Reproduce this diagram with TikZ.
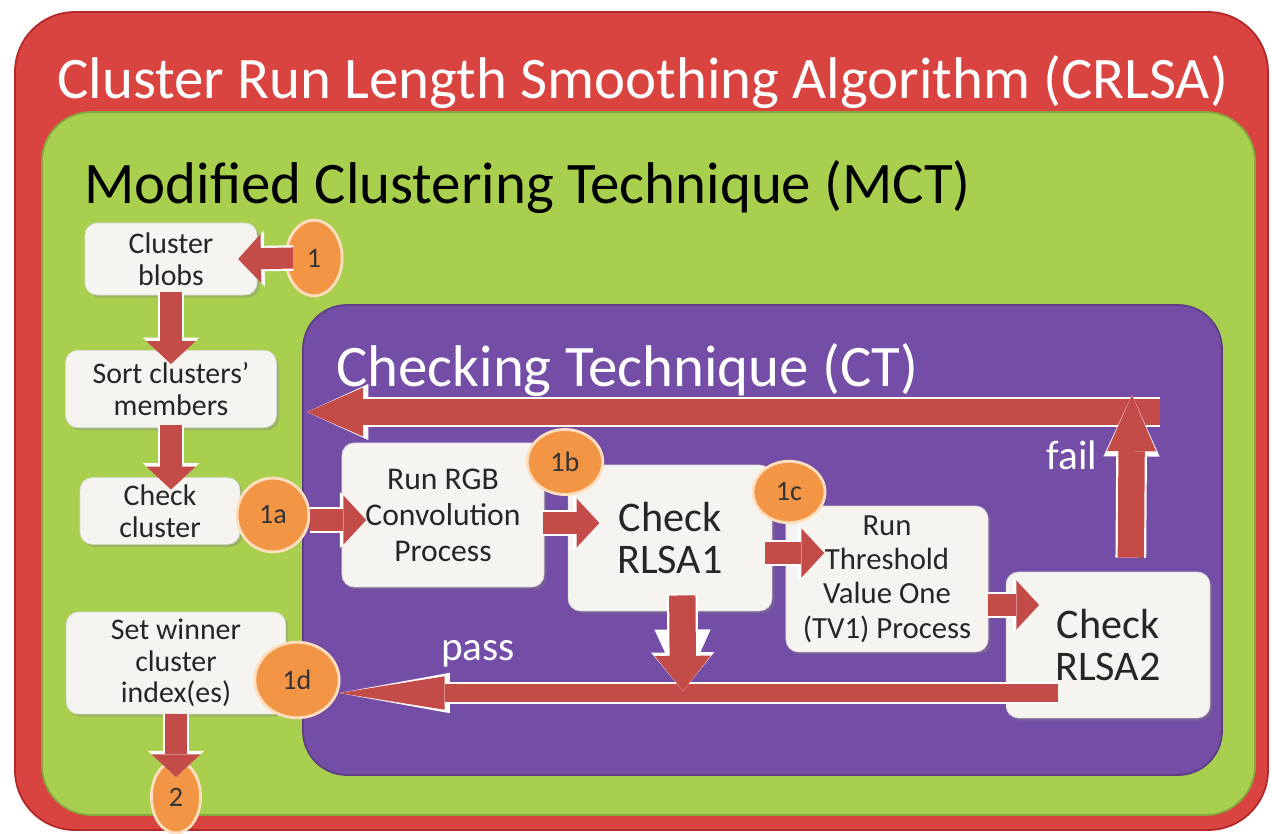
\documentclass[tikz,border=0pt]{standalone}
\usepackage{fontspec}
\setmainfont{Carlito}
\usetikzlibrary{arrows.meta,shapes.geometric,shadows}
\definecolor{crlsared}{RGB}{218,68,64}
\definecolor{crlsadark}{RGB}{178,40,40}
\definecolor{mctgreen}{RGB}{168,208,78}
\definecolor{ctpurple}{RGB}{116,78,166}
\definecolor{steporange}{RGB}{242,150,70}
\definecolor{boxgrey}{RGB}{245,244,240}
\definecolor{arrowred}{RGB}{196,76,72}
\begin{document}
\begin{tikzpicture}[x=0.02cm,y=-0.02cm]
  \tikzstyle{stepbox}=[draw=white!85!black, fill=boxgrey, rounded corners=7pt, align=center,
    text=black!85, font=\fontsize{17}{18}\selectfont, inner sep=1pt,
    drop shadow={opacity=0.35,shadow xshift=1.5pt,shadow yshift=-1.5pt}]
  \tikzstyle{stepnum}=[ellipse, draw=orange!25, line width=1.6pt, fill=steporange,
    inner sep=0pt, text=black!80, font=\fontsize{16}{18}\selectfont]
  \tikzstyle{blockarrow}=[draw=arrowred, line width=12pt,
    -{Triangle[length=13pt,width=28pt,line width=0pt]},
    preaction={draw=white, line width=14.5pt, -{Triangle[length=15pt,width=32pt,line width=0pt]}}]
  \tikzstyle{bigarrow}=[draw=arrowred, line width=15pt,
    -{Triangle[length=32pt,width=28pt,line width=0pt]},
    preaction={draw=white, line width=17.5pt, -{Triangle[length=35pt,width=32pt,line width=0pt]}}]
  \tikzstyle{passarrow}=[draw=arrowred, line width=10pt,
    -{Triangle[length=60pt,width=19pt,line width=0pt]},
    preaction={draw=white, line width=12.5pt, -{Triangle[length=63pt,width=23pt,line width=0pt]}}]
  \tikzstyle{title}=[anchor=west, inner sep=0pt, font=\fontsize{33.5}{40}\selectfont]
  \tikzstyle{flowlabel}=[text=white, font=\fontsize{23.5}{26}\selectfont]
  \useasboundingbox (0,0) rectangle (1272,833);

  % nested frames
  \filldraw[fill=crlsared, draw=crlsadark, line width=1pt, rounded corners=34pt] (15,12) rectangle (1268,830);
  \filldraw[fill=mctgreen, draw=mctgreen!80!black, line width=1pt, rounded corners=28pt] (42,112) rectangle (1255,815);
  \filldraw[fill=ctpurple, draw=ctpurple!80!black, line width=1pt, rounded corners=25pt] (303,305) rectangle (1222,775);

  \node[title, text=white] (crlsa) at (57,82) {Cluster Run Length Smoothing Algorithm (CRLSA)};
  \node[title, text=black] (mct) at (84,187) {Modified Clustering Technique (MCT)};
  \node[title, text=white] (ct) at (336,370) {Checking Technique (CT)};

  % steps
  \node[stepbox, minimum width=98pt, minimum height=41pt] (blobs) at (171,259) {Cluster\\blobs};
  \node[stepbox, minimum width=120pt, minimum height=44pt] (sort) at (171,389) {Sort clusters'\\members};
  \node[stepbox, minimum width=91pt, minimum height=38pt] (checkcl) at (160,511) {Check\\cluster};
  \node[stepbox, minimum width=125pt, minimum height=58pt] (winner) at (176,663) {Set winner\\cluster\\index(es)};
  \node[stepbox, minimum width=115pt, minimum height=82pt, font=\fontsize{18}{20.5}\selectfont] (rgb) at (443,515) {Run RGB\\Convolution\\Process};
  \node[stepbox, minimum width=116pt, minimum height=83pt, font=\fontsize{24}{24}\selectfont] (rlsa1) at (670,538) {Check\\RLSA1};
  \node[stepbox, minimum width=115pt, minimum height=83pt, font=\fontsize{17.5}{19.5}\selectfont] (tv1) at (887,579) {Run\\Threshold\\Value One\\(TV1) Process};
  \node[stepbox, minimum width=116pt, minimum height=83pt, font=\fontsize{24}{24}\selectfont] (rlsa2) at (1108,645) {Check\\RLSA2};

  \coordinate (failtop) at (1132,395);
  \coordinate (backstart) at (1160,412);
  \coordinate (backend) at (307,412);
  \coordinate (passstart) at (1058,693);
  \coordinate (passjoin) at (683,691);

  % flow
  \draw[blockarrow] ([yshift=2pt]blobs.south) -- ([yshift=-8pt]sort.north);
  \draw[blockarrow] ([yshift=2pt]sort.south) -- ([yshift=-7pt]sort.south |- checkcl.north);
  \draw[bigarrow] (backstart) -- (backend);
  \draw[bigarrow] ([xshift=13pt,yshift=8pt]rlsa2.north) -- (failtop);

  \node[stepnum, minimum width=32pt, minimum height=43pt] (c1) at (314,258) {1};
  \node[stepnum, minimum width=41pt, minimum height=42pt] (c1a) at (273,515) {1a};
  \node[stepnum, minimum width=43pt, minimum height=37pt] (c1b) at (565,462) {1b};
  \node[stepnum, minimum width=41pt, minimum height=35pt] (c1c) at (789,492) {1c};
  \node[stepnum, minimum width=48pt, minimum height=43pt] (c1d) at (297,680) {1d};
  \node[stepnum, minimum width=28pt, minimum height=41pt] (c2) at (176,797) {2};

  \draw[blockarrow] ([xshift=5pt]c1.west) -- ([xshift=-11pt]blobs.east);
  \draw[blockarrow] (c1a.east |- 0,520) -- ([xshift=14pt]rgb.west |- 0,520);
  \draw[blockarrow] ([xshift=-1pt]rgb.east |- 0,523) -- ([xshift=18pt]rlsa1.west |- 0,523);
  \draw[blockarrow] ([xshift=-4pt]rlsa1.east |- 0,553) -- ([xshift=22pt]tv1.west |- 0,553);
  \draw[blockarrow] (tv1.east |- 0,605) -- ([xshift=19pt]rlsa2.west |- 0,605);
  \draw[passarrow] (passstart) -- ([xshift=24pt]c1d.center |- passstart);
  \draw[bigarrow, -{Triangle[length=20pt,width=32pt,line width=0pt]},
    preaction={draw=white, line width=17.5pt, -{Triangle[length=22pt,width=36pt,line width=0pt]}}]
    ([xshift=7pt,yshift=9pt]rlsa1.south) -- (passjoin);
  \draw[blockarrow] (winner.south) -- ([yshift=-10pt]c2.north);

  \node[flowlabel] (fail) at (1072,455) {fail};
  \node[flowlabel] (pass) at (478,654) {pass};
\end{tikzpicture}
\end{document}
